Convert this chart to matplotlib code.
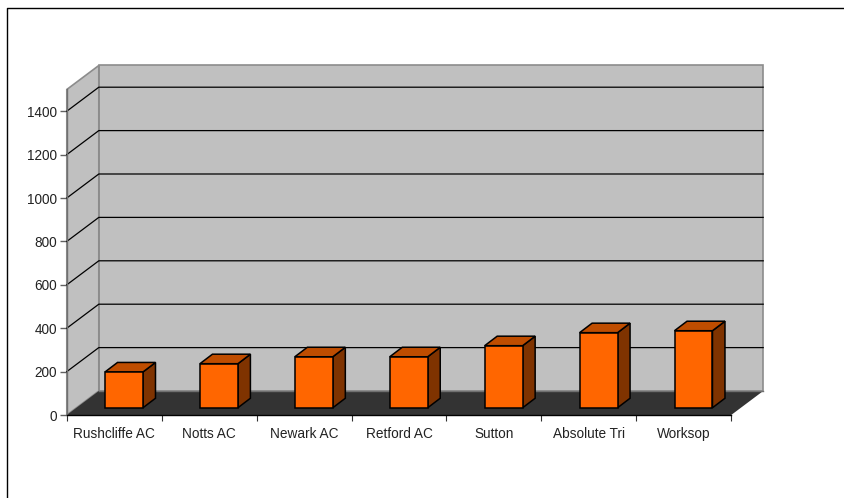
import matplotlib
matplotlib.use("Agg")
import matplotlib.pyplot as plt
from matplotlib.lines import Line2D
from matplotlib.patches import Polygon

categories = ["Rushcliffe AC", "Notts AC", "Newark AC", "Retford AC", "Sutton", "Absolute Tri", "Worksop"]
values = [165, 203, 235, 235, 286, 346, 355]
y_ticks = [0, 200, 400, 600, 800, 1000, 1200, 1400]
y_max = 1500

W, H = 845, 498
plt.rcParams["font.family"] = ["Liberation Sans", "DejaVu Sans"]

fig = plt.figure(figsize=(W / 100, H / 100), dpi=100)
# axes = the front plane of the 3d box, in pixels
left, right, bottom, top = 66.8, 731.2, 415, 89.5
ax = fig.add_axes([left / W, 1 - bottom / H, (right - left) / W, (bottom - top) / H])
n = len(categories)
ax.set_xlim(0, n)
ax.set_ylim(0, y_max)
for s in ax.spines.values():
    s.set_visible(False)
ax.patch.set_visible(False)

# depth of the box in data units
dx = 32 / ((right - left) / n)
dy = 24 / ((bottom - top) / y_max)


def poly(pts, fc, ec="none", lw=0.0, z=1):
    ax.add_patch(Polygon(pts, closed=True, facecolor=fc, edgecolor=ec, linewidth=lw,
                         clip_on=False, zorder=z, joinstyle="miter"))


def line(xs, ys, color="black", lw=1.0, z=2):
    ax.add_line(Line2D(xs, ys, color=color, linewidth=lw, clip_on=False, zorder=z))


# walls and floor
poly([(dx, dy), (n + dx, dy), (n + dx, y_max + dy), (dx, y_max + dy)], "#c0c0c0", "#8c8c8c", 1.2)
poly([(0, 0), (dx, dy), (dx, y_max + dy), (0, y_max)], "#c0c0c0", "#8c8c8c", 1.2)
poly([(0, 0), (n, 0), (n + dx, dy), (dx, dy)], "#333333")
line([dx, n + dx], [dy, dy], "#707070", 1.0, 1.5)

for v in y_ticks[1:]:
    line([0, dx, n + dx], [v, v + dy, v + dy], "black", 0.9)
line([0, 0], [0, y_max], "#707070", 1.0, 3)
line([0, n], [0, 0], "black", 1.0, 3)

# bars
bar_w = 0.4
bar_dx = 12.5 / ((right - left) / n)
bar_dy = 9.5 / ((bottom - top) / y_max)
shift_x = (dx - bar_dx) / 2
shift_y = (dy - bar_dy) / 2
for i, v in enumerate(values):
    x0 = i + 0.5 - bar_w / 2 + shift_x
    x1 = x0 + bar_w
    y0 = shift_y
    y1 = y0 + v
    poly([(x1, y0), (x1 + bar_dx, y0 + bar_dy), (x1 + bar_dx, y1 + bar_dy), (x1, y1)], "#7f3300", "black", 1.1, 4)
    poly([(x0, y1), (x1, y1), (x1 + bar_dx, y1 + bar_dy), (x0 + bar_dx, y1 + bar_dy)], "#bf4d00", "black", 1.1, 4)
    poly([(x0, y0), (x1, y0), (x1, y1), (x0, y1)], "#ff6600", "black", 1.1, 5)

ax.set_yticks(y_ticks)
ax.set_xticks(range(n + 1))
ax.set_xticklabels([])
ax.tick_params(axis="y", length=5, width=1.0, color="#606060", labelsize=9.8, pad=2, labelcolor="#222222")
ax.tick_params(axis="x", length=4.5, width=0.8, color="#303030")
for i, c in enumerate(categories):
    ax.annotate(c, (i + 0.5, 0), xytext=(0, -14), textcoords="offset points", ha="center", va="center",
                fontsize=9.8, color="#222222", annotation_clip=False)

# outer chart border, only top and left are visible in the picture
fig.add_artist(Line2D([7.5 / W, 7.5 / W, 1], [0, 1 - 8 / H, 1 - 8 / H], color="black", linewidth=1.0,
                      transform=fig.transFigure))

fig.savefig("out.png", dpi=100)
